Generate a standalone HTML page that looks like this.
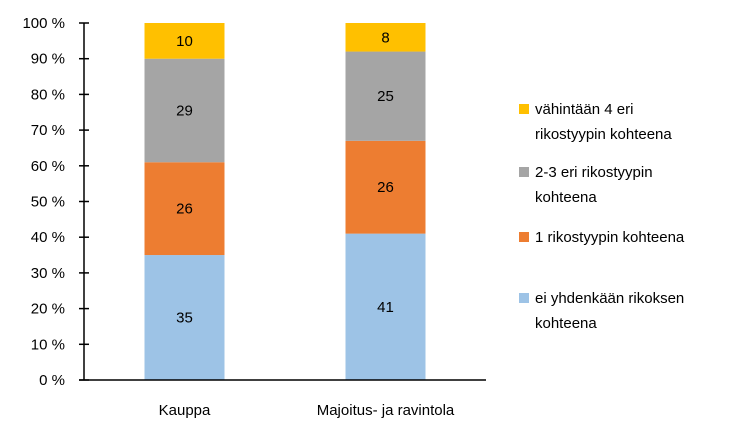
<!DOCTYPE html>
<html><head><meta charset="utf-8"><style>
body{margin:0;background:#fff;width:750px;height:432px;overflow:hidden}
svg text{font-family:"Liberation Sans",sans-serif;font-size:15px;fill:#000}
</style></head><body>
<svg id="chart" width="750" height="432" xmlns="http://www.w3.org/2000/svg"></svg>
<script>
const categories = ["Kauppa", "Majoitus- ja ravintola"];
const seriesNames = ["ei yhdenkään rikoksen kohteena", "1 rikostyypin kohteena", "2-3 eri rikostyypin kohteena", "vähintään 4 eri rikostyypin kohteena"];
const s0 = [35, 41];
const s1 = [26, 26];
const s2 = [29, 25];
const s3 = [10, 8];
const yTicks = [0, 10, 20, 30, 40, 50, 60, 70, 80, 90, 100];
const colors = ["#9DC3E6", "#ED7D31", "#A5A5A5", "#FFC000"];
const legendLines = [["ei yhdenkään rikoksen","kohteena"],["1 rikostyypin kohteena"],["2-3 eri rikostyypin","kohteena"],["vähintään 4 eri","rikostyypin kohteena"]];

const svg = document.getElementById('chart');
const NS = "http://www.w3.org/2000/svg";
const x0 = 84, x1 = 486, yBase = 380, yTop = 23;
const y = v => yBase - (v / 100) * (yBase - yTop);
const band = (x1 - x0) / categories.length;
const xc = i => x0 + band * (i + 0.5);
const barW = 80;
function mk(tag, attrs){const e=document.createElementNS(NS,tag);for(const k in attrs)e.setAttribute(k,attrs[k]);svg.appendChild(e);return e;}

const series = [s0, s1, s2, s3];
categories.forEach((c, i) => {
  let acc = 0;
  series.forEach((s, j) => {
    const v = s[i];
    const r = mk('rect', {x: xc(i) - barW/2, y: y(acc + v), width: barW, height: y(acc) - y(acc + v), fill: colors[j]});
    
    
    const t = mk('text', {x: xc(i), y: (y(acc) + y(acc+v))/2 + 5, 'text-anchor': 'middle'});
    t.textContent = v;
    
    
    acc += v;
  });
  const cl = mk('text', {x: xc(i), y: 415, 'text-anchor': 'middle'});
  cl.textContent = c;
  
  
});

const ya = mk('line', {x1: x0, y1: yTop, x2: x0, y2: yBase, stroke: '#000', 'stroke-width': 1.5});


yTicks.forEach(t => {
  const tl = mk('line', {x1: x0 - 5, y1: y(t), x2: x0 + 5, y2: y(t), stroke: '#000', 'stroke-width': 1.5});
  
  
  const lb = mk('text', {x: 65, y: y(t) + 5, 'text-anchor': 'end'});
  lb.textContent = t + ' %';
  
  
});
const xa = mk('line', {x1: x0 - 5, y1: yBase, x2: x1, y2: yBase, stroke: '#000', 'stroke-width': 1.5});



const legY = [298, 237, 172, 109];
legendLines.forEach((lines, j) => {
  const sq = mk('rect', {x: 519, y: legY[j] - 5, width: 10, height: 10, fill: colors[j]});
  
  
  lines.forEach((ln, k) => {
    const t = mk('text', {x: 535, y: legY[j] + 5 + k * 25});
    t.textContent = ln;
    
    
  });
});
</script>
</body></html>
